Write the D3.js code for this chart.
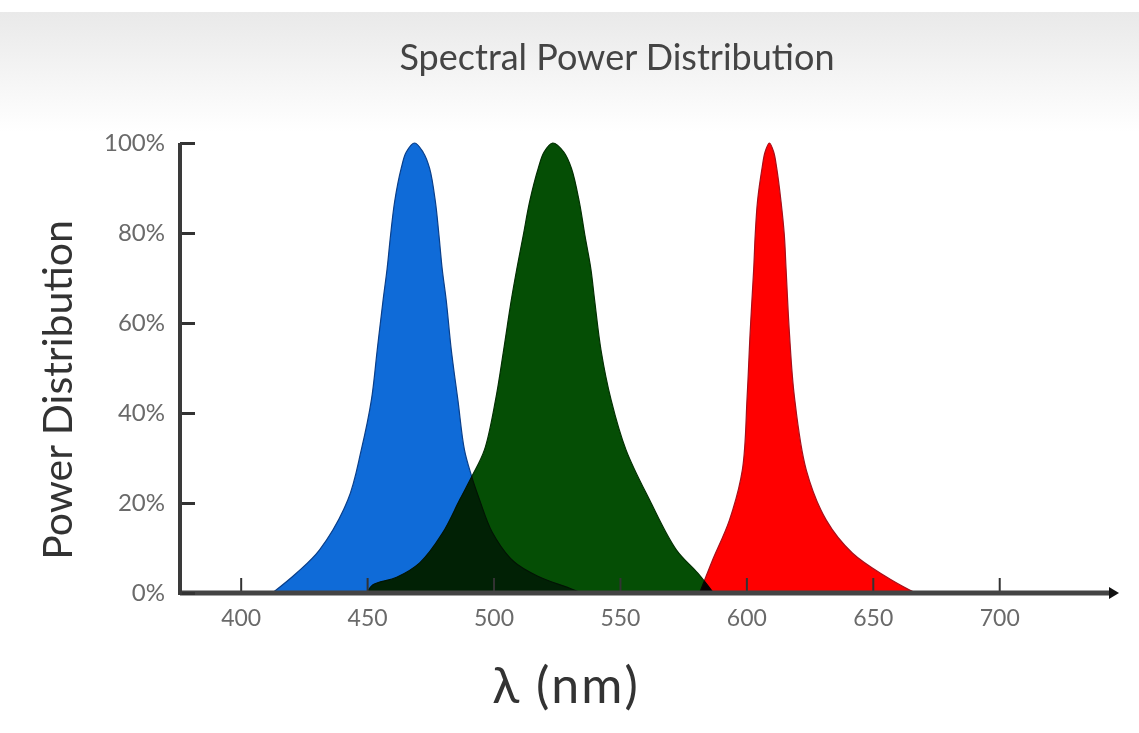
<!DOCTYPE html>
<meta charset="utf-8">
<style>
    body { margin: 0; background: #fff; }
    .tick text { font-family: Lato, "Open Sans", sans-serif; fill: #6a6a6a; }
    .curve { mix-blend-mode: multiply; }
</style>
<svg width="1139" height="733"></svg>
<script src="https://d3js.org/d3.v7.min.js"></script>
<script>

    // spectra: wavelength (nm) and relative power (%)
    var blueNm  = [412.5, 422, 431.2, 442.4, 447.7, 451.7, 454, 456.3, 457.9, 459.3, 460.9, 463.5, 465.5, 468.8, 472.1, 474.7, 477, 478.4, 479.7, 481.3, 483.3, 485.9, 488.5, 491.2, 494.5, 499.5, 508, 518, 529, 535];
    var bluePct = [0, 4.4, 9.6, 20.7, 31.8, 42.9, 54, 65, 72, 79.6, 87, 94.4, 98, 100, 98, 94.4, 87, 79.6, 72, 65, 54, 42.9, 31.8, 26.2, 20.7, 13.5, 7, 3.6, 1.3, 0];

    var greenNm  = [450, 452.2, 461.7, 470.8, 479.8, 486.6, 491.7, 496.4, 500.8, 504, 507, 509.2, 511.8, 514.3, 517.7, 520, 523.4, 527.8, 530.8, 533.9, 536.1, 538.5, 540, 542.5, 546.5, 552.4, 561.7, 572.3, 580.8, 587];
    var greenPct = [0, 1.8, 3.5, 6.7, 13.3, 20.7, 26.2, 31.8, 42.9, 54, 65, 72, 79.6, 87, 94.4, 98, 100, 98, 94.4, 87, 79.6, 72, 65, 54, 42.9, 31.8, 20.7, 9.6, 4.4, 0];

    var redNm  = [581.5, 583.5, 586.6, 593.3, 598.4, 600.3, 601.5, 602.9, 603.5, 604.4, 606.2, 607.4, 609.1, 610.8, 612, 613.7, 615, 615.7, 617, 619, 623.7, 631.6, 641.9, 655.3, 664.4, 667];
    var redPct = [0, 2.9, 7.3, 16.2, 27.3, 43.6, 58, 72, 79.6, 87, 94.4, 98, 100, 98, 94.4, 87, 79.6, 72, 58, 43.6, 27.3, 16.2, 8.9, 3.6, 0.7, 0];

    var xTicks = [400, 450, 500, 550, 600, 650, 700];
    var yTicks = [0, 20, 40, 60, 80, 100];

    var series = [
        { name: "blue",  nm: blueNm,  pct: bluePct,  fill: "#0f6bd8", stroke: "#0a3f8a" },
        { name: "green", nm: greenNm, pct: greenPct, fill: "#054e05", stroke: "#033003" },
        { name: "red",   nm: redNm,   pct: redPct,   fill: "#ff0000", stroke: "#a80f1a" }
    ];

    var svg = d3.select("svg");

    // soft grey wash behind the top of the picture
    var defs = svg.append("defs");
    var grad = defs.append("linearGradient").attr("id", "wash").attr("x1", 0).attr("y1", 0).attr("x2", 0).attr("y2", 1);
    grad.append("stop").attr("offset", "0%").attr("stop-color", "#e9e9e9");
    grad.append("stop").attr("offset", "100%").attr("stop-color", "#ffffff");
    svg.append("rect").attr("x", 0).attr("y", 12).attr("width", 1139).attr("height", 120).attr("fill", "url(#wash)");

    var x = d3.scaleLinear().domain([376, 745]).range([180, 1113]);
    var y = d3.scaleLinear().domain([0, 100]).range([593, 143]);

    defs.append("clipPath").attr("id", "plotclip")
        .append("rect")
        .attr("x", 180).attr("y", 100)
        .attr("width", 940).attr("height", y(0) - 100);

    var area = d3.area()
        .x(function (d) { return x(d[0]); })
        .y0(y(0))
        .y1(function (d) { return y(d[1]); })
        .curve(d3.curveCatmullRom.alpha(0.5));

    var plot = svg.append("g")
        .attr("clip-path", "url(#plotclip)")
        .style("isolation", "isolate");

    plot.selectAll(".curve")
        .data(series)
        .enter().append("path")
        .attr("class", "curve")
        .attr("d", function (s) { return area(d3.zip(s.nm, s.pct)); })
        .attr("fill", function (s) { return s.fill; })
        .attr("stroke", function (s) { return s.stroke; })
        .attr("stroke-width", 1.2);

    // axes
    var xAxis = d3.axisBottom(x).tickValues(xTicks).tickSize(-15).tickPadding(17);
    var gx = svg.append("g")
        .attr("transform", "translate(0," + y(0) + ")")
        .call(xAxis);
    gx.select(".domain").remove();
    gx.selectAll(".tick line").attr("stroke", "#333").attr("stroke-width", 2);
    gx.selectAll(".tick text").attr("font-size", 23).attr("dy", "0.71em");

    svg.append("line")
        .attr("x1", 180).attr("x2", x.range()[1])
        .attr("y1", y(0)).attr("y2", y(0))
        .attr("stroke", "#444").attr("stroke-width", 5);
    svg.append("path")
        .attr("d", "M" + (x.range()[1] - 4) + "," + (y(0) - 6) + " L" + (x.range()[1] + 6) + "," + y(0) + " L" + (x.range()[1] - 4) + "," + (y(0) + 6) + "Z")
        .attr("fill", "#111");

    var yAxis = d3.axisLeft(y).tickValues(yTicks).tickSize(-15).tickPadding(15)
        .tickFormat(function (d) { return d + "%"; });
    var gy = svg.append("g")
        .attr("transform", "translate(180,0)")
        .call(yAxis);
    gy.select(".domain").remove();
    gy.selectAll(".tick line").attr("stroke", "#333").attr("stroke-width", 3);
    gy.selectAll(".tick text").attr("font-size", 24);

    svg.append("line")
        .attr("x1", 180).attr("x2", 180)
        .attr("y1", y(100)).attr("y2", y(0) + 2)
        .attr("stroke", "#3a3a3a").attr("stroke-width", 4);

    // titles
    svg.append("text")
        .attr("x", 617).attr("y", 70)
        .attr("text-anchor", "middle")
        .attr("font-family", "Lato, 'Open Sans', sans-serif")
        .attr("font-size", 36)
        .attr("fill", "#444")
        .text("Spectral Power Distribution");

    svg.append("text")
        .attr("transform", "translate(72,390) rotate(-90)")
        .attr("text-anchor", "middle")
        .attr("font-family", "Lato, 'Open Sans', sans-serif")
        .attr("font-size", 41)
        .attr("fill", "#333")
        .text("Power Distribution");

    svg.append("text")
        .attr("x", 566).attr("y", 703)
        .attr("text-anchor", "middle")
        .attr("font-family", "Lato, 'Open Sans', sans-serif")
        .attr("font-size", 50)
        .attr("letter-spacing", 2)
        .attr("fill", "#333")
        .text("λ (nm)");

</script>
